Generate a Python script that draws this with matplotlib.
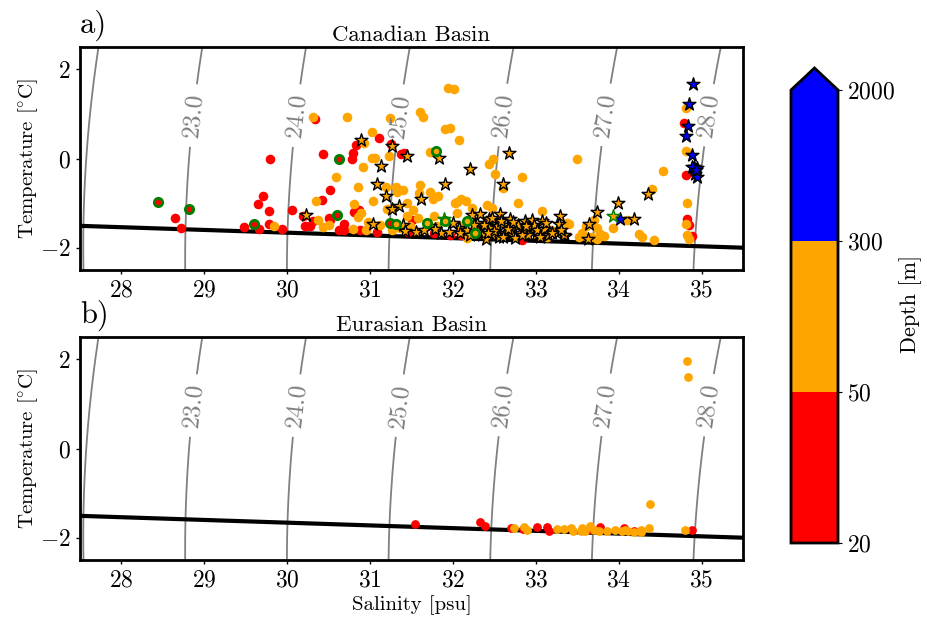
import numpy as np
import matplotlib
matplotlib.use('Agg')
import matplotlib.pyplot as plt
from matplotlib.colors import ListedColormap, BoundaryNorm

plt.rcParams['font.family'] = ['cmr10', 'DejaVu Sans']
plt.rcParams['mathtext.fontset'] = 'cm'
plt.rcParams['axes.formatter.use_mathtext'] = True
plt.rcParams['axes.unicode_minus'] = True

# canadian basin, circles
can_red_s = [28.65, 28.72, 29.48, 29.66, 29.65, 29.71, 29.78, 29.78, 29.79, 29.94, 30.06, 30.19, 30.21, 30.28, 30.31,
             30.33, 30.43, 30.42, 30.52, 30.50, 30.52, 30.62, 30.69, 30.69, 30.78, 30.79, 30.83, 31.11, 30.81, 30.87,
             30.88, 31.08, 31.25, 31.37, 31.41, 31.46, 31.50, 31.46, 31.77, 31.97, 32.10, 32.83, 34.79, 34.81, 34.82,
             34.85, 34.89]
can_red_t = [-1.34, -1.55, -1.54, -1.57, -1.02, -0.83, -1.17, -1.46, -0.02, -1.58, -1.15, -1.30, -1.52, -1.52, -1.41,
             0.88, 0.09, -0.94, -0.70, -1.34, -1.39, -1.61, -1.47, -1.60, -0.02, 0.13, 0.31, 0.46, -1.19, -1.15,
             -1.61, -1.64, 0.32, 0.09, 0.13, -1.64, -1.37, -1.61, -1.67, -1.71, -1.71, -1.82, 0.80, -0.36, -1.36,
             -1.49, -1.73]
can_orange_s = [30.31, 30.72, 31.24, 31.02, 30.93, 31.02, 31.06, 31.23, 30.92, 30.59, 30.86, 31.19, 31.31, 31.32, 31.40,
                31.04, 30.81, 30.35, 30.89, 30.85, 31.21, 31.45, 30.37, 30.43, 30.50, 29.84, 30.80, 30.95, 30.98, 31.12,
                31.26, 31.36, 31.45, 31.94, 32.01, 31.60, 31.64, 31.91, 31.96, 32.07, 31.72, 32.48, 32.43, 32.51, 32.83,
                32.61, 31.60, 31.59, 31.72, 31.82, 31.76, 32.02, 32.10, 32.16, 32.05, 32.23, 32.41, 32.47, 32.78, 33.08,
                33.50, 34.53, 34.40, 34.10, 33.93, 33.38, 33.40, 33.70, 33.60, 33.56, 33.52, 33.74, 33.77, 33.82, 33.74,
                33.66, 34.25, 34.28, 34.43, 34.82, 34.81, 34.82, 34.85, 34.81, 34.81, 31.58, 31.48, 31.77, 31.81, 32.05,
                32.09, 32.17, 31.52, 33.18, 33.14]
can_orange_t = [0.93, 0.93, 0.91, 0.59, 0.35, 0.01, 0.01, 0.06, -0.19, -0.42, -0.64, -0.64, -0.64, -0.74, -0.71,
                -0.95, -1.01, -0.96, -1.23, -1.32, -1.13, -1.00, -1.39, -1.54, -1.49, -1.52, -1.59, -1.60, -1.43, -1.49,
                -1.61, -1.56, -1.30, 1.58, 1.55, 1.05, 0.93, 0.67, 0.69, 0.41, 0.14, -0.01, -0.13, -0.34, -0.41,
                -0.67, -0.60, -0.78, -0.76, -0.83, -0.91, -1.00, -0.91, -0.96, -0.98, -1.11, -1.05, -1.11, -0.99, -1.17,
                -0.01, -0.28, -0.68, -1.37, -1.55, -1.45, -1.47, -1.38, -1.52, -1.67, -1.76, -1.56, -1.69, -1.73, -1.80,
                -1.75, -1.70, -1.77, -1.82, -1.00, -1.47, -1.71, -1.80, 1.14, 0.17, -1.34, -1.52, -1.30, -1.52, -1.23,
                -1.52, -1.78, -1.15, -1.60, -1.75]

# canadian basin, stars
star_orange_s = [30.23, 30.89, 31.27, 31.44, 31.13, 31.08, 31.19, 31.35, 31.27, 31.03, 31.40, 31.83, 32.68, 32.21, 32.61,
                 31.91, 31.62, 34.35, 33.99, 33.74, 33.64, 34.18, 33.63, 33.29, 33.28, 33.35, 33.26, 33.08, 33.08, 31.85,
                 32.07, 32.29, 32.23, 32.33, 32.43, 32.43, 32.35, 32.57, 32.47, 32.53, 32.69, 32.61, 32.63, 32.73, 32.55,
                 32.81, 32.87, 32.95, 32.93, 33.06, 33.34, 32.85, 33.00, 32.09, 32.17, 32.47, 32.71, 32.90, 32.75, 33.15,
                 32.40, 32.00, 31.72, 31.55, 31.42, 32.30, 32.38, 32.50, 32.58, 32.66, 32.78, 32.83, 32.98, 33.02, 33.10,
                 33.20, 33.12, 32.20, 32.25, 32.42, 32.60, 32.72, 32.88, 33.05, 33.30, 31.95, 31.78, 31.65]
star_orange_t = [-1.27, 0.41, 0.27, 0.05, -0.17, -0.57, -0.84, -1.06, -1.14, -1.46, -1.49, 0.02, 0.12, -0.24, -0.57,
                 -0.57, -0.90, -0.79, -1.00, -1.21, -1.46, -1.35, -1.80, -1.29, -1.46, -1.73, -1.66, -1.41, -1.70, -1.67,
                 -1.56, -1.45, -1.26, -1.24, -1.36, -1.56, -1.71, -1.25, -1.34, -1.52, -1.36, -1.49, -1.67, -1.56, -1.75,
                 -1.67, -1.41, -1.37, -1.56, -1.67, -1.71, -1.60, -1.71, -1.67, -1.60, -1.71, -1.71, -1.72, -1.78, -1.72,
                 -1.80, -1.45, -1.52, -1.65, -1.62, -1.62, -1.48, -1.62, -1.40, -1.58, -1.48, -1.72, -1.50, -1.60, -1.58,
                 -1.68, -1.45, -1.72, -1.50, -1.68, -1.75, -1.42, -1.52, -1.75, -1.60, -1.65, -1.58, -1.60]
star_blue_s = [34.90, 34.85, 34.84, 34.81, 34.88, 34.91, 34.94, 34.89, 34.92, 34.95, 34.93, 34.02]
star_blue_t = [1.68, 1.23, 0.73, 0.51, 0.08, -0.18, -0.22, -0.18, -0.35, -0.41, -0.26, -1.35]

# green edged ones
ring_red_s = [28.44, 28.81, 29.60, 30.62, 30.60, 31.24]
ring_red_t = [-0.98, -1.13, -1.46, -0.02, -1.27, -1.45]
ring_orange_s = [31.31, 31.69, 31.91, 32.17, 32.27, 31.79]
ring_orange_t = [-1.46, -1.45, -1.41, -1.41, -1.68, 0.17]
star_green_s = [31.89, 33.93]
star_green_t = [-1.35, -1.30]

# eurasian basin
eur_red_s = [31.54, 32.33, 32.39, 32.70, 32.85, 33.02, 33.14, 33.16, 33.65, 33.77, 34.06, 34.19, 34.89]
eur_red_t = [-1.70, -1.65, -1.74, -1.79, -1.81, -1.77, -1.75, -1.84, -1.81, -1.77, -1.79, -1.84, -1.83]
eur_orange_s = [34.82, 34.84, 34.38, 34.37, 34.80, 32.74, 32.86, 32.89, 33.26, 33.34, 33.42, 33.45, 33.54, 33.56, 33.59,
                33.65, 33.70, 33.76, 33.86, 33.95, 34.04, 34.08, 34.11, 34.19, 34.27, 34.27]
eur_orange_t = [1.97, 1.60, -1.25, -1.79, -1.82, -1.78, -1.77, -1.82, -1.81, -1.80, -1.79, -1.85, -1.84, -1.78, -1.85,
                -1.73, -1.82, -1.84, -1.84, -1.82, -1.84, -1.82, -1.86, -1.87, -1.82, -1.87]

# freezing line and density levels
freeze_s = [27.5, 35.5]
freeze_t = [-1.51, -2.00]
plain_levels = [22]
label_levels = [23, 24, 25, 26, 27, 28]
label_s = [28.83, 30.07, 31.31, 32.63, 33.89, 35.09]
label_t = 0.97
sal_offset = 0.145  # the reference isopycnals sit a bit saltier than plain EOS-80

depth_bounds = [20, 50, 300, 2000]
depth_colors = ['red', 'orange', 'blue']


def sigma_t(s, t):
    # EOS-80 density at the surface minus 1000
    rho_w = (999.842594 + 6.793952e-2 * t - 9.095290e-3 * t**2 + 1.001685e-4 * t**3
             - 1.120083e-6 * t**4 + 6.536332e-9 * t**5)
    a = 0.824493 - 4.0899e-3 * t + 7.6438e-5 * t**2 - 8.2467e-7 * t**3 + 5.3875e-9 * t**4
    b = -5.72466e-3 + 1.0227e-4 * t - 1.6546e-6 * t**2
    return rho_w + a * s + b * s**1.5 + 4.8314e-4 * s**2 - 1000


def basin_axes(top_px, height_px):
    ax = fig.add_axes([80 / 927, 1 - (top_px + height_px) / 617, 663 / 927, height_px / 617])
    ss, tt = np.meshgrid(np.linspace(27, 36, 200), np.linspace(-2.6, 2.6, 200))
    dens = sigma_t(ss - sal_offset, tt)
    ax.contour(ss, tt, dens, levels=plain_levels, colors='gray', linewidths=1.3)
    cs = ax.contour(ss, tt, dens, levels=label_levels, colors='gray', linewidths=1.3)
    ax.clabel(cs, fmt='%.1f', fontsize=18, colors='gray', inline=True, inline_spacing=8,
              manual=[(s, label_t) for s in label_s])
    ax.plot(freeze_s, freeze_t, color='black', lw=3, zorder=2)
    ax.set_xlim(27.5, 35.5)
    ax.set_ylim(-2.5, 2.5)
    ax.set_xticks(range(28, 36))
    ax.set_yticks([-2, 0, 2])
    ax.set_ylabel(r'Temperature [$^{\circ}$C]', fontsize=15, labelpad=0)
    ax.tick_params(labelsize=17, length=3, width=1)
    for spine in ax.spines.values():
        spine.set_linewidth(2)
    return ax


fig = plt.figure(figsize=(9.27, 6.17), dpi=100)

ax1 = basin_axes(47, 223)
ax1.scatter(can_red_s, can_red_t, s=48, c='red', linewidths=0, zorder=3)
ax1.scatter(can_orange_s, can_orange_t, s=48, c='orange', linewidths=0, zorder=3)
ax1.scatter(ring_red_s, ring_red_t, s=36, c='red', edgecolors='green', linewidths=2, zorder=4)
ax1.scatter(star_orange_s, star_orange_t, s=95, c='orange', marker='*', edgecolors='black', linewidths=1, zorder=5)
ax1.scatter(star_blue_s, star_blue_t, s=95, c='blue', marker='*', edgecolors='black', linewidths=1, zorder=5)
ax1.scatter(star_green_s, star_green_t, s=95, c='orange', marker='*', edgecolors='green', linewidths=1, zorder=6)
ax1.scatter(ring_orange_s, ring_orange_t, s=36, c='orange', edgecolors='green', linewidths=2, zorder=6)
ax1.set_title('Canadian Basin', fontsize=16.5, pad=4)
ax1.text(0, 1.025, 'a)', transform=ax1.transAxes, fontsize=22, va='bottom', ha='left')

ax2 = basin_axes(337, 223)
ax2.scatter(eur_red_s, eur_red_t, s=40, c='red', linewidths=0, zorder=3)
ax2.scatter(eur_orange_s, eur_orange_t, s=40, c='orange', linewidths=0, zorder=3)
ax2.set_title('Eurasian Basin', fontsize=16.5, pad=4)
ax2.set_xlabel('Salinity [psu]', fontsize=15, labelpad=3)
ax2.text(0, 1.025, 'b)', transform=ax2.transAxes, fontsize=22, va='bottom', ha='left')

# colorbar with the arrow on top
cmap = ListedColormap(depth_colors)
cmap.set_over('blue')
norm = BoundaryNorm(depth_bounds, cmap.N)
cax = fig.add_axes([791 / 927, 1 - 543 / 617, 47 / 927, 475 / 617])
sm = plt.cm.ScalarMappable(norm=norm, cmap=cmap)
cb = fig.colorbar(sm, cax=cax, extend='max', spacing='uniform', ticks=depth_bounds, extendfrac=22 / 453)
cb.outline.set_linewidth(2)
cb.ax.tick_params(labelsize=17, length=3)
cb.set_label('Depth [m]', fontsize=16, labelpad=3, y=0.528)

fig.savefig('out.png', dpi=100)
